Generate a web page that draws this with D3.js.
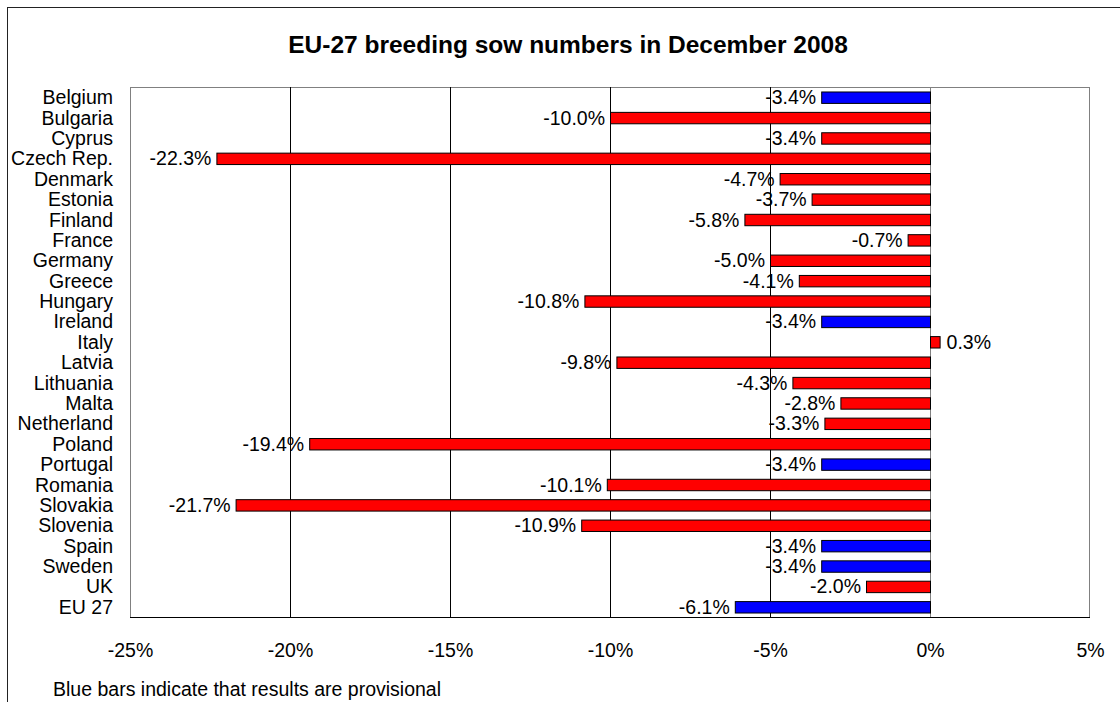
<!DOCTYPE html>
<html>
<head>
<meta charset="utf-8">
<script src="https://cdn.jsdelivr.net/npm/d3@7"></script>
<style>
  html, body { margin: 0; padding: 0; background: #fff; }
  svg { display: block; font-family: "Liberation Sans", Arial, sans-serif; }
</style>
</head>
<body>
<svg id="chart" width="1120" height="702"></svg>
<script>
const countries = ["Belgium","Bulgaria","Cyprus","Czech Rep.","Denmark","Estonia","Finland","France","Germany","Greece","Hungary","Ireland","Italy","Latvia","Lithuania","Malta","Netherland","Poland","Portugal","Romania","Slovakia","Slovenia","Spain","Sweden","UK","EU 27"];
const changes = [-3.4,-10.0,-3.4,-22.3,-4.7,-3.7,-5.8,-0.7,-5.0,-4.1,-10.8,-3.4,0.3,-9.8,-4.3,-2.8,-3.3,-19.4,-3.4,-10.1,-21.7,-10.9,-3.4,-3.4,-2.0,-6.1];
const provisional = [true,false,false,false,false,false,false,false,false,false,false,true,false,false,false,false,false,false,true,false,false,false,true,true,false,true];
const xTicks = [-25,-20,-15,-10,-5,0,5];
const titleText = "EU-27 breeding sow numbers in December 2008";
const noteText = "Blue bars indicate that results are provisional";

(function () {
const data = countries.map((c, i) => ({ country: c, value: changes[i], prov: provisional[i] }));
const fmt = v => v.toFixed(1) + "%";

const svg = d3.select("#chart");
const pLeft = 130, pRight = 1090, pTop = 87, pBottom = 617;

const x = d3.scaleLinear().domain([-25, 5]).range([pLeft, pRight]);
const y = d3.scaleBand().domain(countries).range([pTop, pBottom]).paddingInner(0.44).paddingOuter(0.22);

// outer frame
svg.append("rect").attr("x", 7.5).attr("y", 7.5).attr("width", 1130).attr("height", 720)
  .attr("fill", "none").attr("stroke", "#222").attr("stroke-width", 1);

// title
svg.append("text").attr("x", 568).attr("y", 53).attr("text-anchor", "middle")
  .attr("font-size", "24.5px").attr("font-weight", "bold").attr("fill", "#000").text(titleText);

// plot area border
svg.append("rect").attr("x", pLeft + 0.5).attr("y", pTop + 0.5).attr("width", pRight - pLeft - 1).attr("height", pBottom - pTop)
  .attr("fill", "#fff").attr("stroke", "#808080").attr("stroke-width", 1);

// gridlines
svg.append("g").selectAll("line").data(xTicks.filter(t => t > -25 && t < 0)).join("line")
  .attr("x1", d => Math.round(x(d)) + 0.5).attr("x2", d => Math.round(x(d)) + 0.5)
  .attr("y1", pTop).attr("y2", pBottom)
  .attr("stroke", "#000").attr("stroke-width", 1);

// zero (category) axis
svg.append("line").attr("x1", Math.round(x(0)) + 0.5).attr("x2", Math.round(x(0)) + 0.5)
  .attr("y1", pTop).attr("y2", pBottom).attr("stroke", "#808080").attr("stroke-width", 1);

// bottom value axis
const xAxis = d3.axisBottom(x).tickValues(xTicks).tickFormat(d => d + "%").tickSize(0).tickPadding(26);
const gx = svg.append("g").attr("transform", `translate(0,${pBottom + 0.5})`).call(xAxis);
gx.select(".domain").attr("stroke", "#000").attr("d", `M${pLeft},0H${pRight}`);
gx.selectAll("text").attr("font-size", "19.5px").attr("font-family", "Liberation Sans, Arial, sans-serif").attr("fill", "#000");

// bars
svg.append("g").selectAll("rect").data(data).join("rect")
  .attr("x", d => Math.min(x(d.value), x(0)) + 0.5)
  .attr("y", d => y(d.country) + 0.5)
  .attr("width", d => Math.abs(x(d.value) - x(0)))
  .attr("height", y.bandwidth())
  .attr("fill", d => d.prov ? "#0000FF" : "#FF0000")
  .attr("stroke", "#000").attr("stroke-width", 1);

// value labels
svg.append("g").selectAll("text").data(data).join("text")
  .attr("x", d => d.value < 0 ? x(d.value) - 5 : x(d.value) + 7)
  .attr("y", d => y(d.country) + y.bandwidth() / 2 + 7)
  .attr("text-anchor", d => d.value < 0 ? "end" : "start")
  .attr("font-size", "19.5px").attr("fill", "#000")
  .text(d => fmt(d.value));

// category labels
svg.append("g").selectAll("text").data(data).join("text")
  .attr("x", 113)
  .attr("y", d => y(d.country) + y.bandwidth() / 2 + 7)
  .attr("text-anchor", "end")
  .attr("font-size", "19.5px").attr("fill", "#000")
  .text(d => d.country);

// footnote
svg.append("text").attr("x", 53).attr("y", 696).attr("font-size", "19.5px").attr("fill", "#000").text(noteText);
})();
</script>
</body>
</html>
